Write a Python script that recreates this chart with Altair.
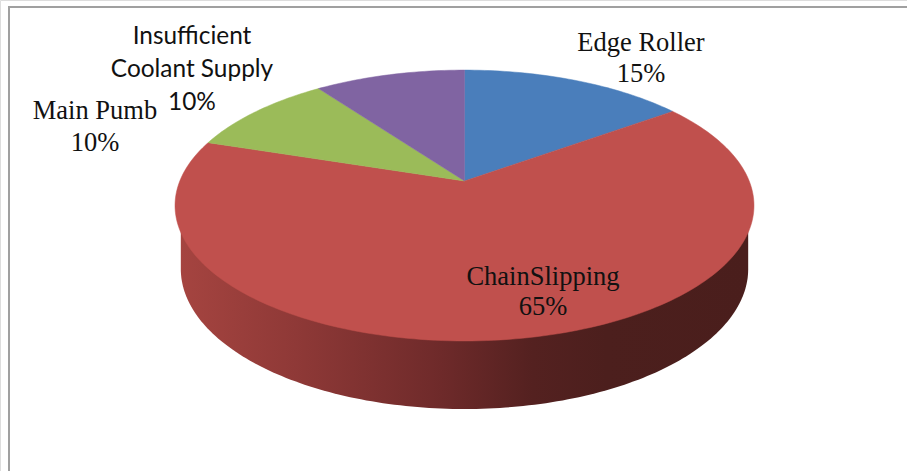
import math

import altair as alt
import pandas as pd

# Share of downtime by cause, clockwise from twelve o'clock
causes = ["Edge Roller", "ChainSlipping", "Main Pumb", "Insufficient Coolant Supply"]
shares = [15, 65, 10, 10]
slice_colors = ["#4A7EBB", "#C0504D", "#9BBB59", "#8064A2"]

# Label text, one list per line, and where each block is anchored
label_lines = [
    ["Edge Roller", "15%"],
    ["ChainSlipping", "65%"],
    ["Main Pumb", "10%"],
    ["Insufficient", "Coolant Supply", "10%"],
]
label_x = [641, 543, 95, 192]
label_y = [43, 277, 111, 37]
label_step = [31, 30, 32, 33]
label_fonts = ["Liberation Serif", "Liberation Serif", "Liberation Serif", "Lato"]
label_sizes = [26.5, 26.5, 26.5, 24.4]

W, H = 907, 471

# Perspective disc: the far rim shrinks by PERSP relative to the near rim
PERSP = 0.181
TOP = dict(cx=464.5, cy=181, ax=284.7, ay=131)
BOTTOM = dict(cx=464.5, cy=243.7, ax=279, ay=135.4)
RIM_MID_Y = 205


def project(theta, disc):
    depth = 1 + PERSP * math.cos(theta)
    return (
        disc["cx"] + disc["ax"] * math.sin(theta) / depth,
        disc["cy"] - disc["ay"] * math.cos(theta) / depth,
    )


x_scale = alt.Scale(domain=[0, W], range=[0, W], nice=False, zero=False)
y_scale = alt.Scale(domain=[0, H], range=[0, H], nice=False, zero=False)
x_enc = alt.X("x:Q", scale=x_scale, axis=None)
y_enc = alt.Y("y:Q", scale=y_scale, axis=None)

# Frame of the chart area: only its left and top edges fall inside the page
frame = (
    alt.Chart(pd.DataFrame({"x": [9, 9, W], "y": [H, 7, 7], "i": range(3)}))
    .mark_line(stroke="#A0A0A0", strokeWidth=2)
    .encode(x=x_enc, y=y_enc, order="i:Q")
)

# Side wall: front half of the lower rim, shaded from left to right
front_from = math.acos(-PERSP)
front_to = 2 * math.pi - front_from
steps = 160
wall_rows = []
for i in range(steps + 1):
    t = front_from + (front_to - front_from) * i / steps
    px, py = project(t, BOTTOM)
    wall_rows.append({"x": px, "y": py, "y2": RIM_MID_Y})
wall_gradient = alt.LinearGradient(
    gradient="linear",
    x1=0, x2=1, y1=0, y2=0,
    stops=[
        alt.GradientStop(color="#A54440", offset=0.0),
        alt.GradientStop(color="#8F3937", offset=0.2),
        alt.GradientStop(color="#6E2A2A", offset=0.46),
        alt.GradientStop(color="#542120", offset=0.62),
        alt.GradientStop(color="#4C1F1D", offset=0.75),
        alt.GradientStop(color="#4A1E1C", offset=1.0),
    ],
)
wall = (
    alt.Chart(pd.DataFrame(wall_rows))
    .mark_area(fill=wall_gradient, orient="vertical", interpolate="linear")
    .encode(x=x_enc, y=y_enc, y2="y2:Q")
)

# Top face: one filled outline per slice, swept from its share of the whole
total = sum(shares)
layers = [frame, wall]
running = 0
for cause, share, color in zip(causes, shares, slice_colors):
    a0 = 2 * math.pi * running / total
    a1 = 2 * math.pi * (running + share) / total
    running += share
    n = max(2, int(share * 3))
    rows = [{"x": TOP["cx"], "y": TOP["cy"], "i": 0}]
    for k in range(n + 1):
        px, py = project(a0 + (a1 - a0) * k / n, TOP)
        rows.append({"x": px, "y": py, "i": k + 1})
    rows.append({"x": TOP["cx"], "y": TOP["cy"], "i": n + 2})
    layers.append(
        alt.Chart(pd.DataFrame(rows))
        .mark_line(fill=color, stroke=color, strokeWidth=0.5)
        .encode(x=x_enc, y=y_enc, order="i:Q")
    )

# Category and percentage labels
for lines, lx, ly, step, font, size in zip(
    label_lines, label_x, label_y, label_step, label_fonts, label_sizes
):
    rows = [{"x": lx, "y": ly + j * step, "t": line} for j, line in enumerate(lines)]
    layers.append(
        alt.Chart(pd.DataFrame(rows))
        .mark_text(font=font, fontSize=size, color="#111111", align="center", baseline="middle")
        .encode(x=x_enc, y=y_enc, text="t:N")
    )

chart = (
    alt.layer(*layers)
    .properties(width=W, height=H, padding=0, autosize=alt.AutoSizeParams(type="none"))
    .configure_view(stroke=None)
    .configure(background="white")
)
chart.save("out.html", embed_options={"renderer": "svg", "actions": False})
